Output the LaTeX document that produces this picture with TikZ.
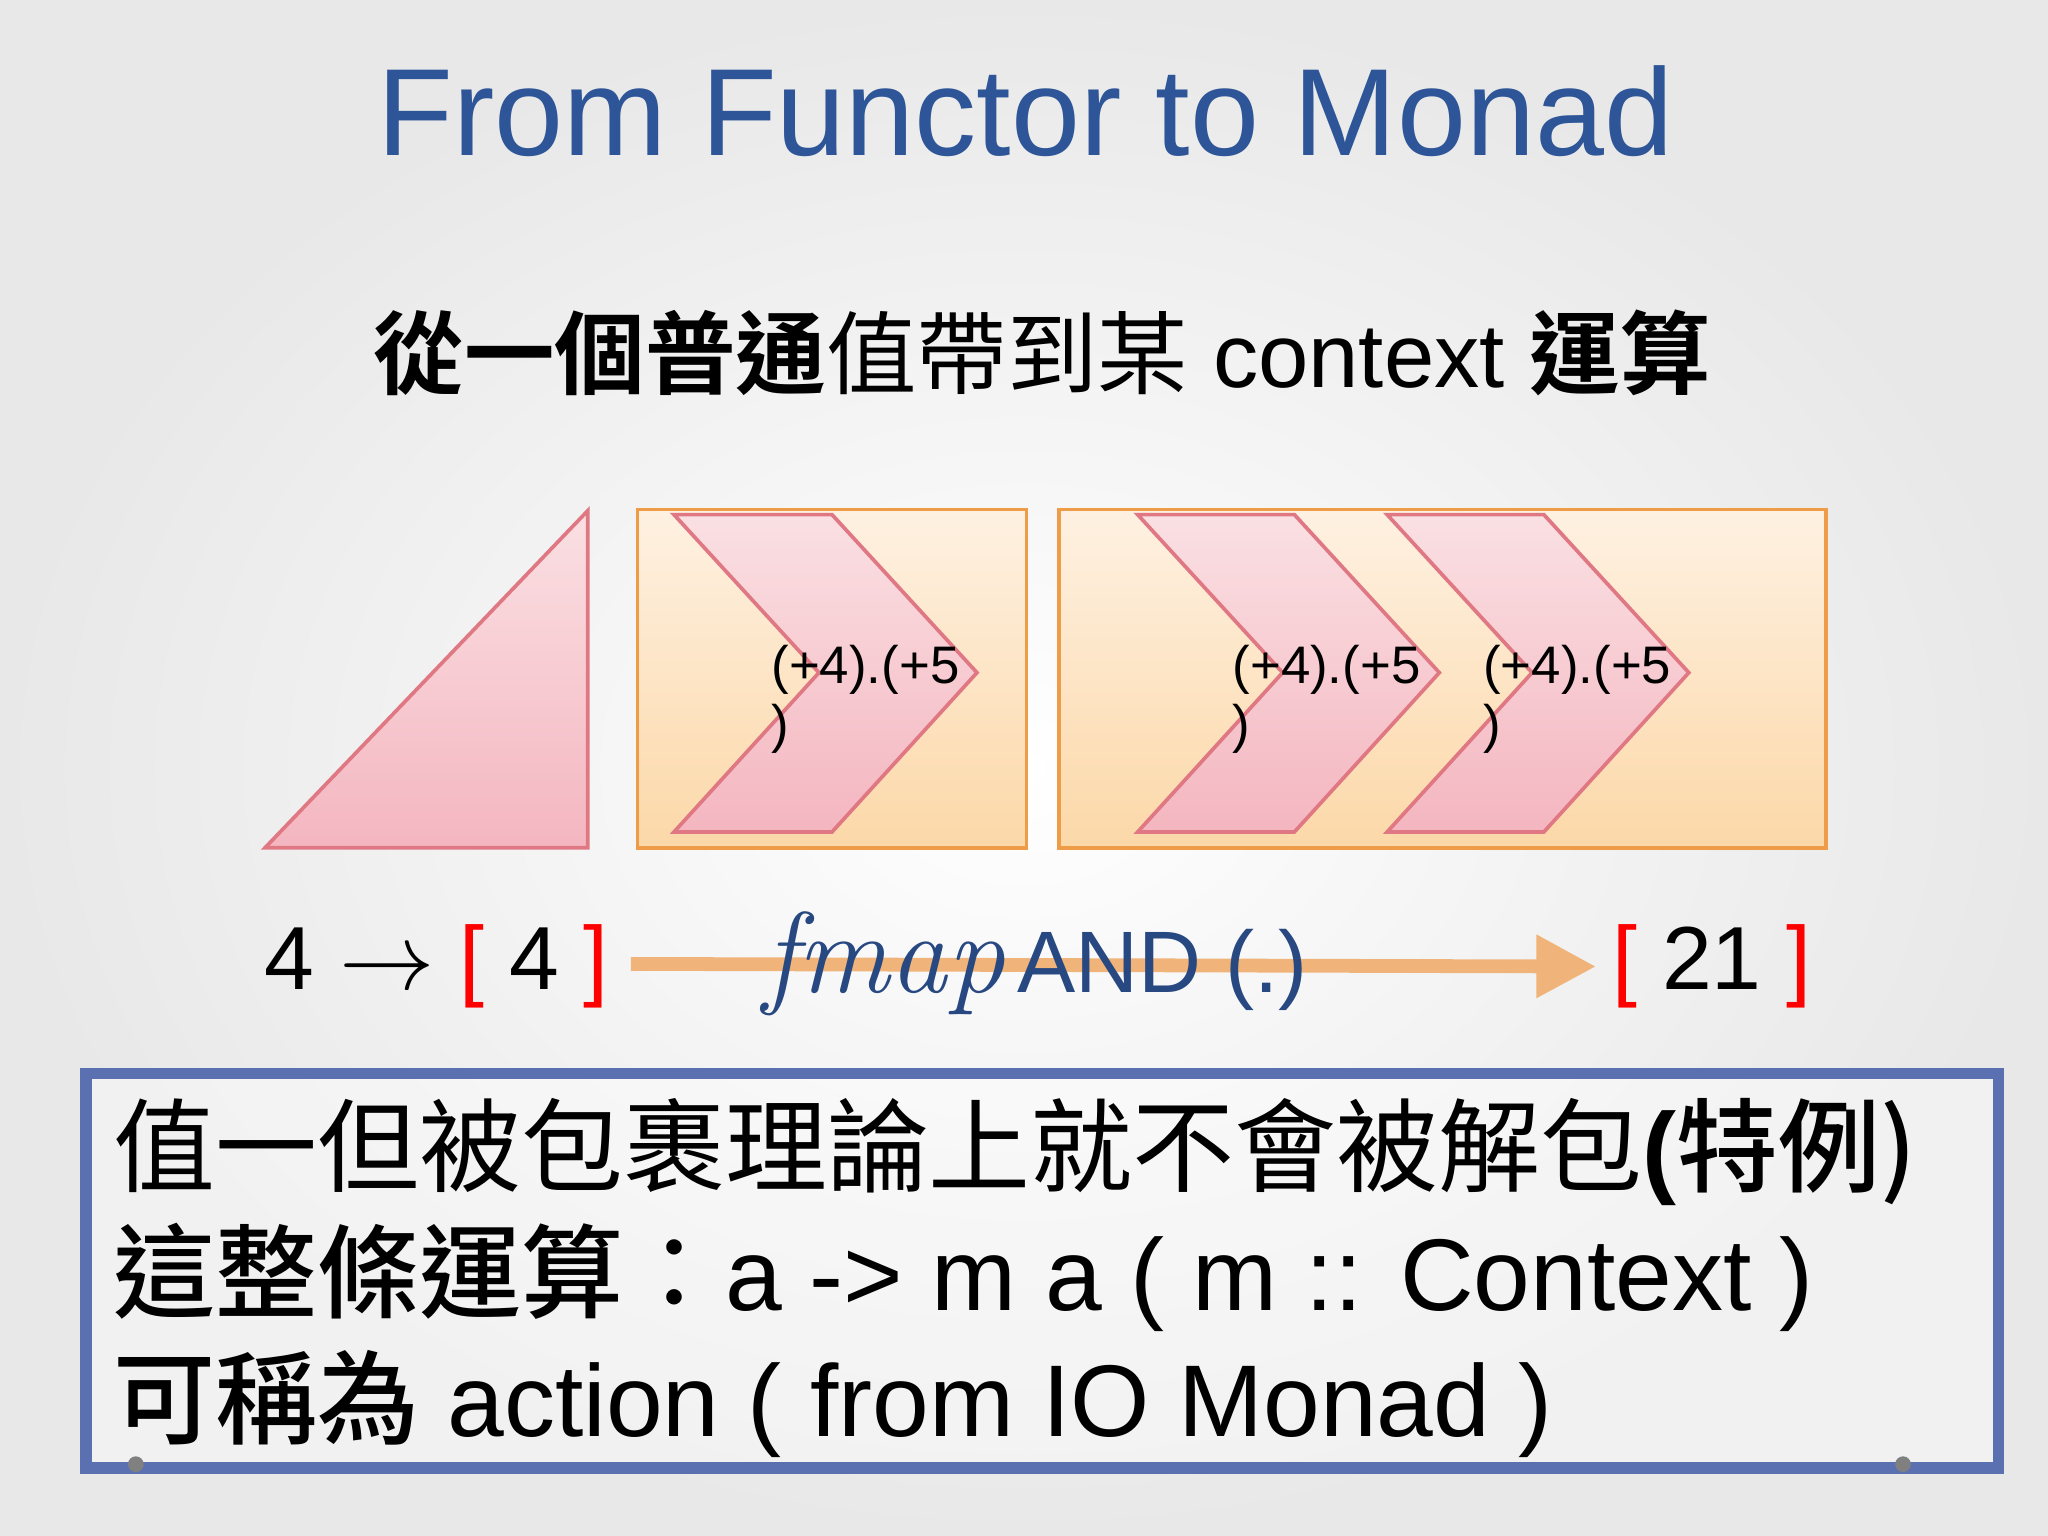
\documentclass[tikz,border=0pt]{standalone}
\usepackage{fontspec}
\setmainfont{Liberation Sans}
\newfontfamily\cjk{Noto Sans CJK TC}[BoldFont={Noto Sans CJK TC Medium}]
\newfontfamily\cjkb{Noto Sans CJK TC Bold}
\usetikzlibrary{arrows.meta}
\definecolor{titleblue}{HTML}{2E5597}
\definecolor{pinkedge}{HTML}{E07884}
\definecolor{pinktop}{HTML}{FAE0E3}
\definecolor{pinkbot}{HTML}{F4B6C0}
\definecolor{orgedge}{HTML}{EE9C48}
\definecolor{orgtop}{HTML}{FEF1E2}
\definecolor{orgbot}{HTML}{FCD8A8}
\definecolor{arrorg}{HTML}{F0B47A}
\definecolor{boxblue}{HTML}{5A70B0}
\tikzset{
 pinkshape/.style={draw=pinkedge, line width=0.8pt, top color=pinktop, bottom color=pinkbot},
 orgbox/.style={draw=orgedge, line width=0.8pt, top color=orgtop, bottom color=orgbot},
 lbl/.style={font=\fontsize{11.5}{13}\selectfont, align=left, inner sep=0pt},
}
\begin{document}
\begin{tikzpicture}[x=0.01cm,y=-0.01cm]
\shade[inner color=white, outer color=black!9] (0,0) rectangle (1568,1176);
\useasboundingbox (0,0) rectangle (1568,1176);
\node[text=titleblue, font=\fontsize{27}{30}\selectfont] (title) at (785,85) {From Functor to Monad};
\node[font=\fontsize{19.7}{22}\selectfont] (sub) at (798,270) {{\cjkb 從一個普通}{\cjk 值帶到某} context {\cjkb 運算}};
% triangle
\draw[pinkshape] (203,649) -- (450,391) -- (450,649) -- cycle;
% box 1
\draw[orgbox] (488,390) rectangle (786,649);
\draw[pinkshape] (516,394) -- (637,394) -- (748,515) -- (637,637) -- (516,637) -- (627,515) -- cycle;
\node[lbl, anchor=north west] (l1) at (590,493) {(+4).(+5\\)};
% box 2
\draw[orgbox] (811,390) rectangle (1398,649);
\draw[pinkshape] (871,394) -- (991,394) -- (1102,515) -- (991,637) -- (871,637) -- (982,515) -- cycle;
\draw[pinkshape] (1062,394) -- (1182,394) -- (1293,515) -- (1182,637) -- (1062,637) -- (1173,515) -- cycle;
\node[lbl, anchor=north west] (l2) at (943,493) {(+4).(+5\\)};
\node[lbl, anchor=north west] (l3) at (1135,493) {(+4).(+5\\)};
% bottom row
\node[font=\fontsize{19.5}{22}\selectfont, anchor=west] (four) at (190,740) {4 $\rightarrow$ \textcolor{red}{[} 4 \textcolor{red}{]}};
\node[font=\fontsize{19.5}{22}\selectfont, anchor=west] (res) at (1222,740) {\textcolor{red}{[} 21 \textcolor{red}{]}};
\coordinate (as) at (483,738);
\draw[arrorg, line width=3pt, -{Triangle[length=13pt,width=13pt]}] (as) -- (res.west);
\node[text=titleblue!85!black, anchor=west] (fm) at (572,738) {{\fontsize{25}{28}\selectfont\itshape\fontspec{Latin Modern Roman} fmap} {\fontsize{19}{22}\selectfont AND (.)}};
% bottom box
\draw[boxblue, line width=2.5pt, fill=white, fill opacity=0.4, draw opacity=1] (66,822) rectangle (1530,1124);
\fill[gray] (104,1121) circle (6);
\fill[gray] (1457,1121) circle (6);
\node[anchor=north west, align=left, font=\fontsize{22.2}{27.5}\selectfont, inner sep=0pt] (txt) at (86,840)
{{\cjk 值一但被包裹理論上就不會被解包}{\bfseries(\cjk 特例)}\\
{\cjk\bfseries 這整條運算}{\cjk ：}a -> m a ( m :: Context )\\
{\cjk\bfseries 可稱為} action ( from IO Monad )};
\end{tikzpicture}
\end{document}
